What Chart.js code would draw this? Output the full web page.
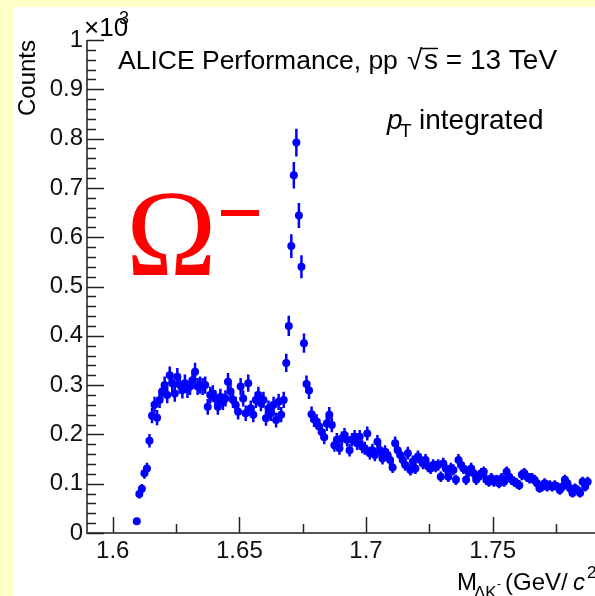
<!DOCTYPE html>
<html lang="en">
<head>
  <meta charset="UTF-8" />
  <title>ALICE Omega- invariant mass</title>
  <script src="https://cdn.jsdelivr.net/npm/chart.js"></script>
  <style>
    html, body { margin: 0; padding: 0; width: 595px; height: 596px; overflow: hidden; background: #ffffc8; }
    #panel { position: absolute; left: 13px; top: 7px; width: 582px; height: 589px; background: #fff; }
    #chart { position: absolute; left: 0; top: 0; }
  </style>
</head>
<body>
  <div id="panel"></div>
  <canvas id="chart" width="640" height="596"></canvas>

  <script>
    // histogram binning (GeV/c^2)
    const binLow = 1.609;
    const binWidth = 0.001;

    // counts per bin, in units of 10^3
    const counts = [
      0.024, 0.079, 0.09, 0.121, 0.131, 0.187, 0.238, 0.26, 0.234, 0.27,
      0.287, 0.30, 0.28, 0.32, 0.304, 0.283, 0.317, 0.30, 0.29, 0.304,
      0.291, 0.297, 0.31, 0.327, 0.297, 0.30, 0.297, 0.30, 0.256, 0.28,
      0.283, 0.273, 0.256, 0.276, 0.266, 0.273, 0.307, 0.287, 0.27, 0.26,
      0.246, 0.297, 0.273, 0.243, 0.304, 0.253, 0.24, 0.27, 0.28, 0.263,
      0.27, 0.233, 0.253, 0.243, 0.26, 0.229, 0.266, 0.24, 0.27, 0.345,
      0.42, 0.582, 0.7255, 0.792, 0.644, 0.54, 0.385, 0.302, 0.289, 0.241,
      0.23, 0.226, 0.216, 0.205, 0.194,
      0.222, 0.24, 0.219, 0.178, 0.189, 0.172, 0.192, 0.199, 0.189, 0.168,
      0.189, 0.195, 0.182, 0.195, 0.175, 0.172, 0.202, 0.162, 0.168, 0.158,
      0.185, 0.168, 0.151, 0.165, 0.158, 0.148, 0.133, 0.182, 0.168, 0.158,
      0.148, 0.138, 0.162, 0.128, 0.145, 0.131, 0.155, 0.148, 0.141, 0.148,
      0.135, 0.131, 0.138, 0.135, 0.138, 0.114, 0.141, 0.131, 0.114, 0.131,
      0.128, 0.108, 0.148, 0.138, 0.131, 0.108, 0.124, 0.131, 0.121, 0.108,
      0.114, 0.121, 0.124, 0.108, 0.104, 0.111, 0.104, 0.108, 0.101, 0.111,
      0.104, 0.124, 0.114, 0.108, 0.104, 0.101, 0.097, 0.118, 0.121, 0.114,
      0.111, 0.111, 0.108, 0.101, 0.091, 0.094, 0.101, 0.094, 0.097, 0.094,
      0.097, 0.094, 0.087, 0.094, 0.108, 0.101, 0.091, 0.081, 0.091, 0.087,
      0.081, 0.104, 0.094, 0.104
    ];

    const xTicks = [1.6, 1.65, 1.7, 1.75, 1.8];
    const xRange = [1.58984, 1.8];
    const yRange = [0, 1];

    // bin centres and poisson errors (counts are in 10^3)
    const points = counts.map((c, i) => ({
      x: binLow + binWidth * (i + 0.5),
      y: c,
      err: Math.sqrt(c * 1000) / 1000
    }));

    const FONT = '"Liberation Sans", Arial, sans-serif';
    const BLUE = '#0000ff';

    const rootStyle = {
      id: 'rootStyle',
      beforeDatasetsDraw(chart) {
        const ctx = chart.ctx, xs = chart.scales.x, ys = chart.scales.y;
        const a = chart.chartArea;
        ctx.save();
        ctx.beginPath();
        ctx.rect(a.left, a.top, a.right - a.left, a.bottom - a.top);
        ctx.clip();
        ctx.strokeStyle = BLUE;
        ctx.lineWidth = 2.5;
        points.forEach(p => {
          const x = xs.getPixelForValue(p.x);
          ctx.beginPath();
          ctx.moveTo(x, ys.getPixelForValue(p.y - p.err));
          ctx.lineTo(x, ys.getPixelForValue(p.y + p.err));
          ctx.stroke();
        });
        ctx.restore();
      },
      afterDraw(chart) {
        const ctx = chart.ctx, xs = chart.scales.x, ys = chart.scales.y;
        const { left, top, bottom, right } = chart.chartArea;
        ctx.save();

        // axis lines
        ctx.strokeStyle = '#555';
        ctx.lineWidth = 2;
        ctx.beginPath();
        ctx.moveTo(left, top);
        ctx.lineTo(left, bottom);
        ctx.lineTo(right, bottom);
        ctx.stroke();

        // ticks drawn inside, ROOT style
        ctx.strokeStyle = '#222';
        ctx.lineWidth = 1.5;
        for (let i = 0; i <= 50; i++) {
          const y = Math.round(ys.getPixelForValue(i * 0.02)) + 0.5;
          const len = i % 5 === 0 ? 17 : 9;
          ctx.beginPath();
          ctx.moveTo(left, y);
          ctx.lineTo(left + len, y);
          ctx.stroke();
        }
        for (let i = 0; i <= 8; i++) {
          const x = Math.round(xs.getPixelForValue(1.6 + i * 0.025)) + 0.5;
          const len = i % 2 === 0 ? 16 : 9;
          ctx.beginPath();
          ctx.moveTo(x, bottom);
          ctx.lineTo(x, bottom - len);
          ctx.stroke();
        }

        // texts
        ctx.fillStyle = '#000';
        ctx.textBaseline = 'alphabetic';
        ctx.textAlign = 'left';

        // x10^3
        ctx.font = '26px ' + FONT;
        ctx.fillText('\u00d710', 84, 36);
        ctx.font = '18px ' + FONT;
        ctx.fillText('3', 119, 24);

        // y title
        ctx.save();
        ctx.translate(35, 40);
        ctx.rotate(-Math.PI / 2);
        ctx.textAlign = 'right';
        ctx.font = '24px ' + FONT;
        ctx.fillText('Counts', 0, 0);
        ctx.restore();

        // header
        ctx.font = '26.5px ' + FONT;
        ctx.fillText('ALICE Performance, pp', 118, 69);
        ctx.font = '28px ' + FONT;
        ctx.fillText('\u221a', 407, 69);
        const sx = 424;
        ctx.fillText('s = 13 TeV', sx, 69);
        ctx.lineWidth = 1.5;
        ctx.strokeStyle = '#000';
        ctx.beginPath();
        ctx.moveTo(sx - 3, 48.5);
        ctx.lineTo(sx + 14, 48.5);
        ctx.stroke();

        // pT integrated
        ctx.font = 'italic 28px ' + FONT;
        ctx.fillText('p', 387, 129);
        ctx.font = '19px ' + FONT;
        ctx.fillText('T', 400, 137);
        ctx.font = '28px ' + FONT;
        ctx.fillText('integrated', 419, 129);

        // Omega minus
        ctx.fillStyle = '#ff0000';
        ctx.font = '122px "Liberation Serif", "Times New Roman", serif';
        ctx.fillText('\u03a9', 126, 275);
        ctx.fillRect(221, 210, 38, 6);

        // x title
        ctx.fillStyle = '#000';
        ctx.font = '24px ' + FONT;
        ctx.fillText('M', 457, 590);
        ctx.font = '17px ' + FONT;
        ctx.fillText('\u039bK', 474, 598);
        ctx.font = '12px ' + FONT;
        ctx.fillText('-', 497, 588);
        ctx.font = '24px ' + FONT;
        ctx.fillText('(GeV/', 505, 590);
        ctx.font = 'italic 24px ' + FONT;
        ctx.fillText('c', 573, 590);
        ctx.font = '17px ' + FONT;
        ctx.fillText('2', 587, 578);
        ctx.font = '24px ' + FONT;
        ctx.fillText(')', 598, 590);

        ctx.restore();
      }
    };

    new Chart(document.getElementById('chart'), {
      type: 'scatter',
      data: {
        datasets: [{
          label: 'Counts',
          data: points,
          backgroundColor: BLUE,
          borderWidth: 0,
          pointRadius: 4,
          pointHoverRadius: 4
        }]
      },
      options: {
        responsive: false,
        animation: false,
        devicePixelRatio: 1,
        layout: { padding: { left: 0, top: 40, right: 15, bottom: 0 } },
        plugins: { legend: { display: false }, tooltip: { enabled: false } },
        scales: {
          x: {
            type: 'linear',
            min: xRange[0],
            max: xRange[1],
            border: { display: false },
            grid: { display: false, drawTicks: false },
            afterBuildTicks: s => { s.ticks = xTicks.map(v => ({ value: v })); },
            afterFit: s => { s.height = 63; },
            ticks: {
              padding: 4,
              color: '#111',
              font: { family: FONT, size: 24 },
              callback: v => String(v)
            }
          },
          y: {
            min: yRange[0],
            max: yRange[1],
            border: { display: false },
            grid: { display: false, drawTicks: false },
            afterFit: s => { s.width = 87; },
            ticks: {
              stepSize: 0.1,
              padding: 4,
              color: '#111',
              font: { family: FONT, size: 24 },
              callback: v => String(Math.round(v * 10) / 10)
            }
          }
        }
      },
      plugins: [rootStyle]
    });
  </script>
</body>
</html>
